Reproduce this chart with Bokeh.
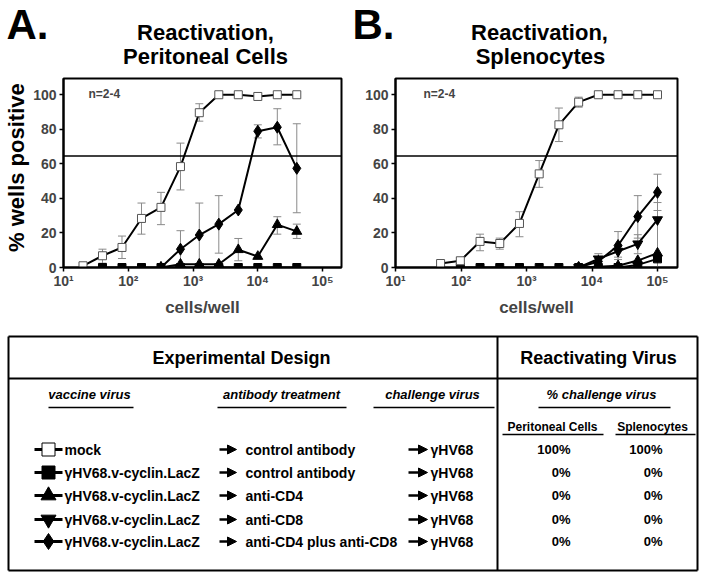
import math
from bokeh.plotting import figure
from bokeh.models import (Range1d, FixedTicker, Span, Label, Whisker, TeeHead,
                          ColumnDataSource, CustomJSTickFormatter, Arrow, NormalHead)
from bokeh.layouts import column, row
from bokeh.embed import file_html
from bokeh.resources import INLINE
from bokeh.core.properties import value

FONT = "Liberation Sans"

# ---------------- Panel A: Peritoneal cells ----------------
a_cells = [20, 40, 80, 160, 320, 640, 1250, 2500, 5000, 10000, 20000, 40000]
a_mock = [1, 6.8, 11.6, 28.4, 34.8, 58.4, 89.6, 100, 100, 99, 100, 100]
a_mock_hi = [None, 10.6, 18.2, 37.3, 43.5, 72, 94.8, None, None, None, None, None]
a_mock_lo = [None, 2.5, 5.2, 19.3, 24.8, 44.9, 84.7, None, None, None, None, None]

a_ctrl_cells = [40, 80, 160, 320, 640, 1250, 2500, 5000, 10000, 20000, 40000]
a_ctrl = [0, 0, 0, 0, 0, 0, 0, 0, 0, 0, 0]

a_ab_cells = [320, 640, 1250, 2500, 5000, 10000, 20000, 40000]
a_cd4 = [0, 1.9, 1.9, 1.9, 10.3, 6.4, 24.8, 20.9]
a_cd4_hi = [None, None, None, None, 16.8, None, 29.4, 25.1]
a_cd4_lo = [None, None, None, None, 3.9, None, 19.3, 16.8]
a_cd48 = [0, 10.6, 18.8, 25.1, 33.3, 78.9, 81.2, 57.4]
a_cd48_hi = [None, 21.3, 37.3, 41.6, None, 82.6, 91.9, 83.2]
a_cd48_lo = [None, 0, 0.5, 8.3, None, 75, 71, 31.7]

# ---------------- Panel B: Splenocytes ----------------
b_cells = [48.8, 97.7, 195.3, 390.6, 781.3, 1562.5, 3125, 6250, 12500, 25000, 50000, 100000]
b_mock = [2.3, 3.9, 15.1, 13.9, 25.5, 54.2, 82.6, 95.7, 100, 100, 100, 100]
b_mock_hi = [None, 5.8, 19.3, 17, 32.3, 61.9, 92.3, 98.6, None, None, None, None]
b_mock_lo = [None, 1.9, 9.7, 10.6, 17.8, 46.4, 72.9, 92.8, None, None, None, None]

b_ctrl_cells = [97.7, 195.3, 390.6, 781.3, 1562.5, 3125, 6250, 12500, 25000, 50000, 100000]
b_ctrl = [0, 0, 0, 0, 0, 0, 0, 0, 0, 1.5, 5]

b_ab_cells = [6250, 12500, 25000, 50000, 100000]
b_cd4 = [0, 0.5, 1, 4, 8.3]
b_cd8 = [0, 5, 9.4, 13.7, 27.7]
b_cd8_hi = [None, 8, 12, 19, 37.6]
b_cd8_lo = [None, 2, 6, 8, 0]
b_cd48 = [0, 3.5, 12.7, 29.5, 43.5]
b_cd48_hi = [None, None, 20.8, 41.6, 54]
b_cd48_lo = [None, None, 4.6, 17, 33]

y_ticks = [0, 20, 40, 60, 80, 100]
x_ticks = [10, 100, 1000, 10000, 100000]
cutoff = 64.5

# table content
vaccines = ["mock", "\u03b3HV68.v-cyclin.LacZ", "\u03b3HV68.v-cyclin.LacZ",
            "\u03b3HV68.v-cyclin.LacZ", "\u03b3HV68.v-cyclin.LacZ"]
antibodies = ["control antibody", "control antibody", "anti-CD4", "anti-CD8",
              "anti-CD4 plus anti-CD8"]
challenge = ["\u03b3HV68"] * 5
pct_perit = ["100%", "0%", "0%", "0%", "0%"]
pct_splen = ["100%", "0%", "0%", "0%", "0%"]
markers = ["square", "square", "triangle", "inverted_triangle", "diamond"]

YMAX = 109.4
HEAD_H = 74          # header strip height
PANEL_TOP = HEAD_H
PANEL_H = 246
FT = 78.0            # frame top (page px)
FB = 267.0           # frame bottom (page px)


def clean(p):
    p.xgrid.visible = False
    p.ygrid.visible = False
    p.outline_line_color = None
    p.background_fill_color = "white"
    p.border_fill_color = "white"


def errsrc(xs, hi, lo):
    d = dict(x=[], hi=[], lo=[])
    for x, h, l in zip(xs, hi, lo):
        if h is not None:
            d["x"].append(x)
            d["hi"].append(h)
            d["lo"].append(l)
    return ColumnDataSource(d)


def make_panel(width, mb_left, mb_right, xlog_end):
    p = figure(width=width, height=PANEL_H, x_axis_type="log",
               x_range=Range1d(10, 10 ** xlog_end), y_range=Range1d(0, YMAX),
               output_backend="svg", toolbar_location=None, title=None,
               min_border_left=mb_left, min_border_right=mb_right,
               min_border_top=int(FT - PANEL_TOP),
               min_border_bottom=int(PANEL_TOP + PANEL_H - FB))
    clean(p)
    p.outline_line_color = "black"
    p.outline_line_width = 2
    for ax in (p.xaxis[0], p.yaxis[0]):
        ax.axis_line_width = 2
        ax.major_tick_line_width = 1.5
        ax.major_tick_out = 4
        ax.major_tick_in = 0
        ax.minor_tick_line_color = None
        ax.major_label_text_font = FONT
        ax.major_label_text_font_style = "bold"
        ax.major_label_text_font_size = "14px"
    p.yaxis[0].ticker = FixedTicker(ticks=y_ticks)
    p.yaxis[0].major_label_standoff = 3
    xa = p.xaxis[0]
    xa.ticker = FixedTicker(ticks=x_ticks)
    xa.major_label_standoff = 1
    xa.formatter = CustomJSTickFormatter(code="""
        const sup = {"1": "\u00b9", "2": "\u00b2", "3": "\u00b3", "4": "\u2074", "5": "\u2075"};
        const e = Math.round(Math.log10(tick));
        return "10" + sup[String(e)];
    """)
    xa.axis_label = "cells/well"
    xa.axis_label_text_font = FONT
    xa.axis_label_text_font_style = "bold"
    xa.axis_label_text_font_size = "17px"
    xa.axis_label_standoff = 6
    p.add_layout(Span(location=cutoff, dimension="width", line_color="black", line_width=1.5))
    return p


def whisk(p, src):
    p.add_layout(Whisker(source=src, base="x", upper="hi", lower="lo", dimension="height",
                         line_color="#8a8a8a", line_width=1,
                         upper_head=TeeHead(size=8, line_color="#8a8a8a", line_width=1),
                         lower_head=TeeHead(size=8, line_color="#8a8a8a", line_width=1)))


def series(p, xs, ys, marker, size, fill="black", line="black"):
    p.line(xs, ys, line_color="black", line_width=2)
    p.scatter(xs, ys, marker=marker, size=size, fill_color=fill, line_color=line, line_width=1)


def txt(p, xs, ys, texts, size, align="center", style="bold", angle=0.0):
    p.text(x=xs, y=ys, text=texts, text_font=value(FONT), text_font_style=style,
           text_font_size=size, text_align=align, text_baseline="middle",
           text_color="black", angle=angle)


# ---- header strip (panel letters and titles) ----
pH = figure(width=704, height=HEAD_H, x_range=Range1d(0, 704), y_range=Range1d(HEAD_H, 0),
            output_backend="svg", toolbar_location=None, title=None, min_border=0,
            x_axis_location=None, y_axis_location=None)
clean(pH)
txt(pH, [6, 352], [24, 24], ["A.", "B."], "42px", align="left")
txt(pH, [205, 205, 539, 540], [32, 56, 32, 56],
    ["Reactivation,", "Peritoneal Cells", "Reactivation,", "Splenocytes"], "22px")

# ---- y-axis title strip ----
YL_W = 30
pY = figure(width=YL_W, height=PANEL_H, x_range=Range1d(0, YL_W),
            y_range=Range1d(PANEL_TOP + PANEL_H, PANEL_TOP),
            output_backend="svg", toolbar_location=None, title=None, min_border=0,
            x_axis_location=None, y_axis_location=None)
clean(pY)
txt(pY, [16], [190], ["% wells positive"], "22px", angle=math.pi / 2)

# ---- Panel A ----
A_LEFT = 62.0
A_DEC = 65.0
A_W = 350 - YL_W
A_RIGHT = 341.0
A_END = 1 + (A_RIGHT - A_LEFT) / A_DEC

pA = make_panel(A_W, int(A_LEFT - YL_W), int(350 - A_RIGHT), A_END)
whisk(pA, errsrc(a_cells, a_mock_hi, a_mock_lo))
whisk(pA, errsrc(a_ab_cells, a_cd4_hi, a_cd4_lo))
whisk(pA, errsrc(a_ab_cells, a_cd48_hi, a_cd48_lo))
series(pA, a_ctrl_cells, a_ctrl, "square", 8)
series(pA, a_ab_cells, a_cd4, "triangle", 10)
series(pA, a_ab_cells, a_cd48, "diamond", 12)
series(pA, a_cells, a_mock, "square", 8, fill="white", line="#555555")
pA.add_layout(Label(x=10 ** (1 + (87 - A_LEFT) / A_DEC), y=(FB - 93) * YMAX / (FB - FT),
                    text="n=2-4", text_font=FONT, text_font_style="bold",
                    text_font_size="12px", text_baseline="middle"))

# ---- Panel B ----
B_LEFT = 395.0
B_DEC = 65.5
B_W = 704 - 350
B_RIGHT = 677.0
B_END = 1 + (B_RIGHT - B_LEFT) / B_DEC

pB = make_panel(B_W, int(B_LEFT - 350), int(704 - B_RIGHT), B_END)
whisk(pB, errsrc(b_cells, b_mock_hi, b_mock_lo))
whisk(pB, errsrc(b_ab_cells, b_cd8_hi, b_cd8_lo))
whisk(pB, errsrc(b_ab_cells, b_cd48_hi, b_cd48_lo))
series(pB, b_ctrl_cells, b_ctrl, "square", 8)
series(pB, b_ab_cells, b_cd4, "triangle", 10)
series(pB, b_ab_cells, b_cd8, "inverted_triangle", 10)
series(pB, b_ab_cells, b_cd48, "diamond", 12)
series(pB, b_cells, b_mock, "square", 8, fill="white", line="#555555")
pB.add_layout(Label(x=10 ** (1 + (423 - B_LEFT) / B_DEC), y=(FB - 93) * YMAX / (FB - FT),
                    text="n=2-4", text_font=FONT, text_font_style="bold",
                    text_font_size="12px", text_baseline="middle"))

# ---------------- Table ----------------
T_TOP = PANEL_TOP + PANEL_H
pT = figure(width=704, height=578 - T_TOP, x_range=Range1d(0, 704), y_range=Range1d(578, T_TOP),
            output_backend="svg", toolbar_location=None, title=None, min_border=0,
            x_axis_location=None, y_axis_location=None)
clean(pT)

L, R, T, B = 8, 697, 336, 570
pT.segment(x0=[L, L, L, R, L, 497], y0=[T, B, T, T, 378, T],
           x1=[R, R, L, R, R, 497], y1=[T, B, B, B, 378, B],
           line_color="black", line_width=2)

txt(pT, [241, 598], [357, 357], ["Experimental Design", "Reactivating Virus"], "18px")
txt(pT, [89, 281, 432, 601], [394, 394, 394, 394],
    ["vaccine virus", "antibody treatment", "challenge virus", "% challenge virus"],
    "13px", style="bold italic")
pT.segment(x0=[48, 217, 373, 538], y0=[407] * 4, x1=[133, 346, 494, 670], y1=[407] * 4,
           line_color="black", line_width=1.5)
txt(pT, [552, 652], [426, 426], ["Peritoneal Cells", "Splenocytes"], "12px")
pT.segment(x0=[502, 615], y0=[434, 434], x1=[603, 695], y1=[434, 434],
           line_color="black", line_width=1.5)

rows_y = [449, 472, 495, 519, 541]
pT.segment(x0=[34] * 5, y0=rows_y, x1=[62] * 5, y1=rows_y, line_color="black", line_width=3)
fills = ["white", "black", "black", "black", "black"]
sizes = [13, 13, 15, 15, 16]
for yy, mk, fc, sz in zip(rows_y, markers, fills, sizes):
    pT.scatter([48], [yy], marker=mk, size=sz, fill_color=fc, line_color="black", line_width=1)
txt(pT, [64] * 5, rows_y, vaccines, "14px", align="left")
txt(pT, [245] * 5, rows_y, antibodies, "14px", align="left")
txt(pT, [430] * 5, rows_y, challenge, "14px", align="left")
txt(pT, [570] * 5, rows_y, pct_perit, "13px", align="right")
txt(pT, [662] * 5, rows_y, pct_splen, "13px", align="right")
for yy in rows_y:
    for xs, xe in ((219, 236), (408, 427)):
        pT.add_layout(Arrow(end=NormalHead(size=9, fill_color="black", line_color="black"),
                            x_start=xs, y_start=yy, x_end=xe, y_end=yy,
                            line_width=2.5, line_color="black"))

layout = column(pH, row(pY, pA, pB), pT)
open("out.html", "w", encoding="utf-8").write(file_html(layout, INLINE))
